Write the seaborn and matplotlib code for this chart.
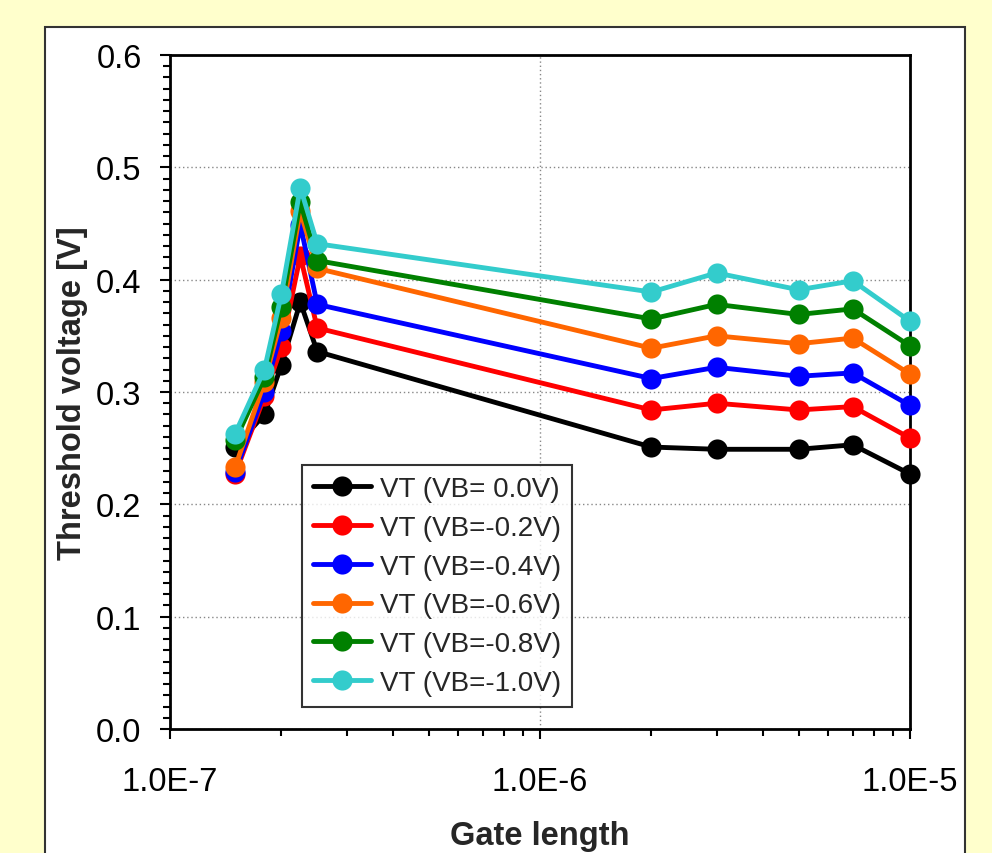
import numpy as np
import pandas as pd
import seaborn as sns
import matplotlib
matplotlib.use("Agg")
import matplotlib.pyplot as plt
from matplotlib.patches import Rectangle
from matplotlib.ticker import MultipleLocator, LogLocator, FuncFormatter, NullFormatter

# Gate lengths (m)
gate_length = [1.5e-7, 1.8e-7, 2.0e-7, 2.25e-7, 2.5e-7, 2.0e-6, 3.0e-6, 5.0e-6, 7.0e-6, 1.0e-5]

# Threshold voltage (V) for each substrate bias
vt_vb_00 = [0.251, 0.280, 0.324, 0.380, 0.336, 0.251, 0.249, 0.249, 0.253, 0.227]
vt_vb_02 = [0.227, 0.296, 0.340, 0.421, 0.357, 0.284, 0.290, 0.284, 0.287, 0.259]
vt_vb_04 = [0.229, 0.300, 0.354, 0.449, 0.378, 0.312, 0.322, 0.314, 0.317, 0.288]
vt_vb_06 = [0.233, 0.309, 0.366, 0.461, 0.410, 0.339, 0.350, 0.343, 0.348, 0.316]
vt_vb_08 = [0.257, 0.313, 0.376, 0.469, 0.417, 0.365, 0.378, 0.369, 0.374, 0.341]
vt_vb_10 = [0.263, 0.320, 0.387, 0.482, 0.432, 0.389, 0.406, 0.391, 0.399, 0.363]

series_labels = ["VT (VB= 0.0V)", "VT (VB=-0.2V)", "VT (VB=-0.4V)",
                 "VT (VB=-0.6V)", "VT (VB=-0.8V)", "VT (VB=-1.0V)"]
series_values = [vt_vb_00, vt_vb_02, vt_vb_04, vt_vb_06, vt_vb_08, vt_vb_10]
series_colors = ["#000000", "#FF0000", "#0000FF", "#FF6600", "#008000", "#33CCCC"]

x_tick_labels = ["1.0E-7", "1.0E-6", "1.0E-5"]

rows = []
for label, vals in zip(series_labels, series_values):
    for L, v in zip(gate_length, vals):
        rows.append({"Gate length": L, "VT": v, "series": label})
df = pd.DataFrame(rows)

sns.set_theme(style="ticks")
plt.rcParams["font.family"] = ["Liberation Sans", "DejaVu Sans"]

fig = plt.figure(figsize=(9.92, 8.54), dpi=100)
fig.patch.set_facecolor("#FFFFCC")

# white chart-area panel behind the axes
fig.patches.append(Rectangle((45 / 992, -0.02), (965 - 45) / 992, 0.02 + 1 - 28 / 854,
                             transform=fig.transFigure, facecolor="white",
                             edgecolor="#333333", linewidth=1.5, zorder=-10))

ax = fig.add_axes([170 / 992, 1 - 730 / 854, 740 / 992, 674 / 854])
ax.set_facecolor("white")

sns.lineplot(data=df, x="Gate length", y="VT", hue="series",
             hue_order=series_labels, palette=series_colors,
             marker="o", markersize=14.5, markeredgewidth=0,
             linewidth=3.5, legend=False, ax=ax, zorder=3, clip_on=False)

ax.set_xscale("log")
ax.set_xlim(1e-7, 1e-5)
ax.set_ylim(0, 0.6)

ax.xaxis.set_major_locator(LogLocator(base=10, numticks=10))
ax.xaxis.set_minor_locator(LogLocator(base=10, subs=np.arange(2, 10), numticks=20))
ax.xaxis.set_major_formatter(FuncFormatter(
    lambda v, p: x_tick_labels[int(round(np.log10(v))) + 7]
    if -7 <= round(np.log10(v)) <= -5 else ""))
ax.xaxis.set_minor_formatter(NullFormatter())

ax.yaxis.set_major_locator(MultipleLocator(0.1))
ax.yaxis.set_minor_locator(MultipleLocator(0.01))
ax.yaxis.set_major_formatter(FuncFormatter(lambda v, p: f"{v:.1f}"))

ax.grid(which="major", axis="both", linestyle=(0, (1, 2)), color="#888888", linewidth=1.0)
ax.set_axisbelow(True)

for s in ax.spines.values():
    s.set_linewidth(2)
    s.set_color("black")

ax.tick_params(axis="both", which="major", direction="out", length=7.5, width=1.5,
               labelsize=23.5, colors="black")
ax.tick_params(axis="y", which="major", pad=13)
ax.tick_params(axis="x", which="major", pad=19)
ax.tick_params(axis="both", which="minor", direction="out", length=5, width=1.5, colors="black")

ax.set_xlabel("Gate length", fontsize=23.5, fontweight="bold")
ax.set_ylabel("Threshold voltage [V]", fontsize=23.5, fontweight="bold")
ax.xaxis.set_label_coords(0.5, -0.135)
ax.yaxis.set_label_coords(-0.111, 0.5)

handles = list(ax.get_lines())[:len(series_labels)]
leg = ax.legend(handles, series_labels, loc="lower left",
                bbox_to_anchor=((302 - 170) / 740, (730 - 708) / 674),
                borderaxespad=0, fontsize=20, frameon=True, fancybox=False,
                edgecolor="black", handlelength=2.1, handletextpad=0.3,
                labelspacing=0.46, borderpad=0.4)
leg.get_frame().set_linewidth(1.5)
leg.set_zorder(5)

fig.savefig("out.png", dpi=100, facecolor=fig.get_facecolor())
